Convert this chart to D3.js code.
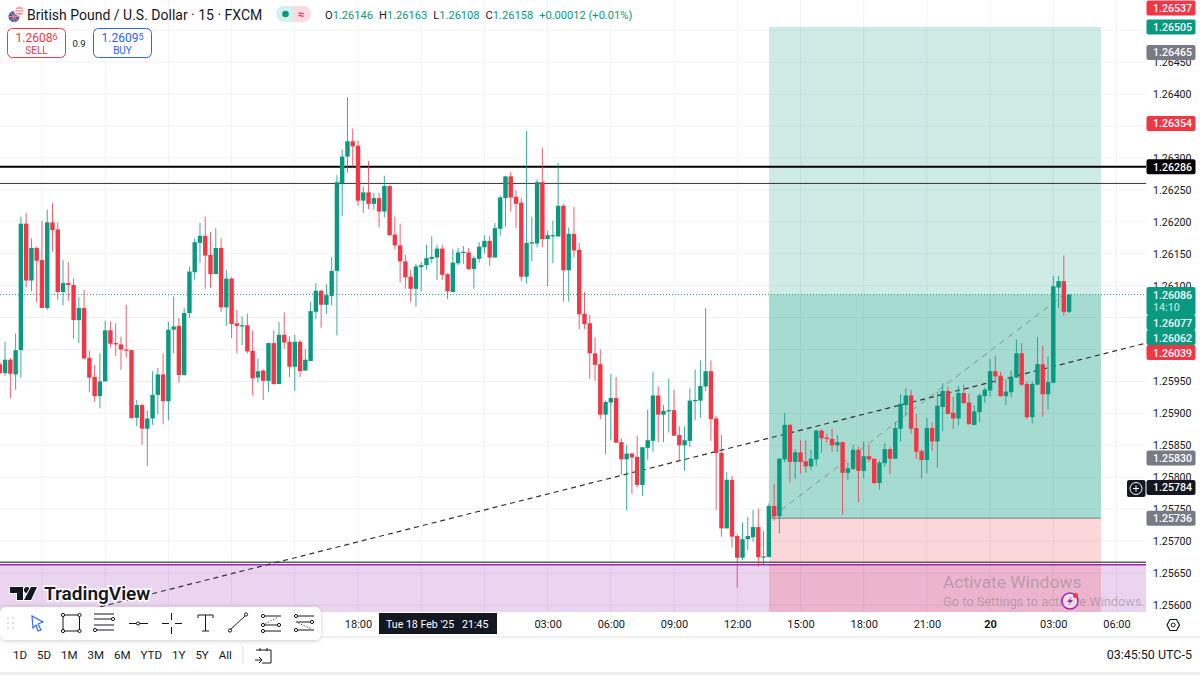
<!DOCTYPE html>
<html>
<head>
<meta charset="utf-8">
<style>
  html, body { margin: 0; padding: 0; background: #fff; overflow: hidden; }
  text { font-family: Roboto, sans-serif; }
</style>
<script src="https://cdn.jsdelivr.net/npm/d3@7"></script>
</head>
<body>
<svg id="chart" width="1200" height="675"></svg>
<script>
// GBP/USD 15m, all series, in points above priceBase
const priceBase = 1.256
const barStart = '2025-02-18T01:00:00Z'
const pointsOpen = [377,363,384,361,399,597,508,559,540,465,599,588,490,504,501,446,465,387,357,327,350,430,410,408,400,399,293,313,276,292,329,361,319,431,437,360,457,521,567,578,548,518,559,466,511,441,437,438,398,356,367,351,410,346,423,412,373,412,367,382,459,492,470,484,523,660,702,726,719,633,646,628,637,616,656,580,563,538,514,495,529,532,542,544,558,518,490,535,552,552,526,542,560,570,544,589,637,671,639,630,514,566,566,662,573,578,577,625,524,581,556,456,441,394,377,298,317,324,255,228,237,232,188,246,257,328,298,303,305,266,250,257,320,320,342,366,292,238,120,196,108,74,103,106,122,75,75,155,139,228,282,224,239,225,217,228,273,262,260,250,255,207,213,243,210,233,229,191,222,244,229,276,313,328,277,241,227,277,256,310,335,301,292,332,317,282,302,327,336,366,359,327,333,356,394,346,294,345,377,330,348,497,507,459]
const pointsHigh = [381,412,387,425,608,614,574,561,601,619,629,599,540,537,511,482,493,398,376,394,445,444,441,420,470,399,321,315,304,366,371,394,443,483,449,465,530,574,598,608,584,590,574,525,513,462,452,456,430,386,369,411,430,443,458,421,423,415,401,475,504,493,502,545,673,713,795,746,727,655,695,645,645,672,657,608,597,548,525,534,537,564,577,564,564,519,557,559,562,559,547,568,579,578,598,641,672,678,649,637,742,608,666,716,586,602,692,628,591,623,567,490,454,419,400,320,361,357,261,251,238,265,247,306,365,342,313,354,337,280,280,339,369,383,465,383,296,266,208,202,111,129,138,149,151,116,159,189,230,301,283,244,258,258,243,274,275,268,276,266,256,223,251,248,256,251,229,226,253,247,286,330,339,337,299,244,293,286,334,347,342,326,343,345,331,313,331,340,385,390,365,353,367,415,410,350,350,420,406,389,515,515,547,486]
const pointsLow = [360,359,324,337,356,497,491,474,465,462,553,478,469,476,417,410,384,333,318,308,350,403,390,368,387,291,280,251,218,282,298,283,289,394,348,359,449,509,536,495,496,518,459,437,418,394,407,394,328,348,321,334,345,346,401,357,335,357,367,382,448,434,456,469,422,609,677,686,625,614,620,619,591,607,578,557,505,495,474,467,491,525,535,509,509,479,490,532,534,524,495,536,550,531,544,578,592,616,590,507,503,538,560,560,499,535,577,475,475,544,432,432,354,351,291,236,258,254,204,148,174,184,171,227,240,255,255,270,265,226,210,247,289,293,335,257,149,107,120,90,27,70,86,99,60,64,75,132,112,223,192,197,206,207,211,218,238,254,240,240,141,196,211,161,198,224,189,181,216,205,229,256,298,268,229,198,206,241,215,272,299,276,281,315,283,282,286,316,326,347,326,313,325,356,343,291,284,345,295,306,347,465,453,457]
const pointsClose = [363,384,362,399,597,508,559,539,465,599,587,490,504,501,446,465,386,356,327,350,430,409,408,400,399,293,313,276,292,329,361,319,431,436,360,457,522,568,578,547,518,559,466,511,440,437,438,397,355,366,351,410,346,423,411,373,412,366,384,460,492,470,485,523,662,702,726,718,633,646,628,637,616,656,579,563,538,513,495,530,532,543,545,558,517,491,536,552,553,526,543,561,570,544,590,638,671,638,628,514,567,568,662,573,579,579,625,524,581,555,455,440,394,376,298,318,324,254,228,237,231,188,247,258,328,298,304,305,265,250,258,320,321,343,366,291,238,120,196,107,74,103,108,122,75,76,155,139,229,282,224,239,224,217,229,273,261,260,250,255,207,214,243,210,233,228,191,223,244,229,277,315,328,276,240,227,277,256,312,335,299,292,332,316,283,303,328,337,366,358,327,334,357,394,345,294,346,377,330,349,499,507,459,486]

const priceTicks = [1.256,1.2565,1.257,1.2575,1.258,1.2585,1.259,1.2595,1.26,1.2605,1.261,1.2615,1.262,1.2625,1.263,1.2635,1.264,1.2645,1.265]
// tick labels fully covered by a price tag in the picture
const priceTicksCovered = [1.26,1.2605,1.2635,1.265]
const timeTicks = ['2025-02-18T03:00Z','2025-02-18T06:00Z','2025-02-18T09:00Z','2025-02-18T12:00Z','2025-02-18T15:00Z','2025-02-18T18:00Z','2025-02-18T21:00Z','2025-02-19T00:00Z','2025-02-19T03:00Z','2025-02-19T06:00Z','2025-02-19T09:00Z','2025-02-19T12:00Z','2025-02-19T15:00Z','2025-02-19T18:00Z','2025-02-19T21:00Z','2025-02-20T00:00Z','2025-02-20T03:00Z','2025-02-20T06:00Z']
// these sit under the drawing toolbar and the crosshair tag
const timeTicksCovered = timeTicks.slice(0,5).concat(timeTicks.slice(6,8))

// price tags on the right axis
const tagPrices = [1.26537,1.26505,1.26465,1.26354,1.26286,1.2583,1.25784,1.25736]
const tagKinds = ['sell','buy','muted','sell','line','muted','cross','muted']
const stackPrices = [1.26086,1.26077,1.26062,1.26039]
const stackKinds = ['buy','buy','buy','sell']

// drawings
const lastPrice = 1.26086
const blackLines = [1.26286,1.2626]
const zoneLines = [1.25667,1.25663]
const purpleZone = [1.25663,1.2555]
const positionBars = [146.03,209.05]
const positionPrices = {target:1.26505,entry:1.25736,stop:1.2555}
const trendBars = [19,217.6]
const trendPrices = [1.25597,1.2601]
const positionPathBars = [146.6,201.6]
const positionPathPrices = [1.25738,1.26083]

const ohlcLetters = ['O','H','L','C']
const ohlcValues = ['1.26146','1.26163','1.26108','1.26158']
const rangeLabels = ['1D','5D','1M','3M','6M','YTD','1Y','5Y','All']

const green = '#089981'
const red = '#f23645'
const tagColor = {sell:red,buy:green,muted:'#787b86',line:'#000',cross:'#131722'}
const plotW = 1146
const plotH = 612

const svg = d3.select('#chart')
const y = d3.scaleLinear().domain([1.256,1.264]).range([605,94])
const x = d3.scaleUtc()
  .domain([new Date('2025-02-18T18:00Z'),new Date('2025-02-20T06:00Z')])
  .range([358,1116.5])
const t0 = +new Date(barStart)
const barX = i => x(new Date(t0 + i*9e5))

const bars = pointsOpen.map((o,i) => ({
  i,
  o:priceBase+o/1e5,
  h:priceBase+pointsHigh[i]/1e5,
  l:priceBase+pointsLow[i]/1e5,
  c:priceBase+pointsClose[i]/1e5
}))

svg.append('clipPath').attr('id','plot').append('rect')
  .attr('width',plotW).attr('height',plotH)
const plot = svg.append('g').attr('clip-path','url(#plot)')

// grid
plot.selectAll('.hgrid').data(priceTicks).enter().append('line')
  .attr('x1',0).attr('x2',plotW)
  .attr('y1',d => y(d)).attr('y2',d => y(d))
  .attr('stroke','#f1f2f5')
plot.selectAll('.vgrid').data(timeTicks).enter().append('line')
  .attr('x1',d => x(new Date(d))).attr('x2',d => x(new Date(d)))
  .attr('y1',0).attr('y2',plotH)
  .attr('stroke','#f1f2f5')

// purple zone + levels
plot.append('rect')
  .attr('x',0).attr('width',plotW)
  .attr('y',y(purpleZone[0])).attr('height',y(purpleZone[1])-y(purpleZone[0]))
  .attr('fill','rgba(156,39,176,0.2)')

// long position tool
const px0 = barX(positionBars[0])
const pw = barX(positionBars[1])-px0
const zone = (top,bottom,fill) => plot.append('rect')
  .attr('x',px0).attr('width',pw)
  .attr('y',y(top)).attr('height',y(bottom)-y(top))
  .attr('fill',fill)
zone(positionPrices.target,positionPrices.entry,'rgba(8,153,129,0.2)')
zone(lastPrice,positionPrices.entry,'rgba(8,153,129,0.2)')
zone(positionPrices.entry,positionPrices.stop,'rgba(242,54,69,0.2)')
plot.append('line')
  .attr('x1',px0).attr('x2',px0+pw)
  .attr('y1',y(positionPrices.entry)).attr('y2',y(positionPrices.entry))
  .attr('stroke','#787b86').attr('stroke-width',1)

plot.selectAll('.black').data(blackLines).enter().append('line')
  .attr('x1',0).attr('x2',plotW)
  .attr('y1',d => y(d)).attr('y2',d => y(d))
  .attr('stroke',(d,i) => i ? '#333' : '#000')
  .attr('stroke-width',(d,i) => i ? 1 : 2)
plot.selectAll('.zoneline').data(zoneLines).enter().append('line')
  .attr('x1',0).attr('x2',plotW)
  .attr('y1',d => y(d)).attr('y2',d => y(d))
  .attr('stroke',(d,i) => i ? '#9c27b0' : '#5d5d5d')
  .attr('stroke-width',1.5)

// trend lines
const trendLine = d3.line().x(d => barX(d[0])).y(d => y(d[1]))
plot.append('path')
  .attr('d',trendLine(d3.zip(trendBars,trendPrices)))
  .attr('fill','none').attr('stroke','#333').attr('stroke-width',1.2).attr('stroke-dasharray','5 4')
plot.append('path')
  .attr('d',trendLine(d3.zip(positionPathBars,positionPathPrices)))
  .attr('fill','none').attr('stroke','#787b86').attr('stroke-opacity',0.75).attr('stroke-width',1).attr('stroke-dasharray','6 5')

// last price line
plot.append('line')
  .attr('x1',0).attr('x2',plotW)
  .attr('y1',y(lastPrice)).attr('y2',y(lastPrice))
  .attr('stroke',green).attr('stroke-opacity',0.9).attr('stroke-dasharray','1 2')

// candles
const candle = plot.selectAll('.candle').data(bars).enter().append('g')
  .attr('fill',d => d.c>=d.o ? green : red)
  .attr('stroke',d => d.c>=d.o ? green : red)
candle.append('line')
  .attr('stroke-opacity',0.8)
  .attr('x1',d => barX(d.i)).attr('x2',d => barX(d.i))
  .attr('y1',d => y(d.h)).attr('y2',d => y(d.l))
candle.append('rect')
  .attr('stroke','none')
  .attr('x',d => barX(d.i)-2.2)
  .attr('width',4.4)
  .attr('y',d => y(Math.max(d.o,d.c)))
  .attr('height',d => Math.max(1.2,Math.abs(y(d.o)-y(d.c))))

// right price axis
const priceAxis = d3.axisRight(y)
  .tickValues(priceTicks.filter(d => !priceTicksCovered.includes(d)))
  .tickFormat(d3.format('.5f')).tickSize(0).tickPadding(0)
const priceG = svg.append('g').attr('transform','translate(1153,0)').call(priceAxis)
priceG.select('.domain').remove()
priceG.selectAll('text').attr('font-size',10.6).attr('fill','#131722').attr('font-family','Roboto')

// time axis
const timeFmt = d => d.getUTCHours()===0 ? d3.utcFormat('%-d')(d) : d3.utcFormat('%H:%M')(d)
const timeAxis = d3.axisBottom(x)
  .tickValues(timeTicks.filter(d => !timeTicksCovered.includes(d)).map(d => new Date(d)))
  .tickFormat(timeFmt).tickSize(0).tickPadding(0)
const timeG = svg.append('g').attr('transform','translate(0,620)').call(timeAxis)
timeG.select('.domain').remove()
timeG.selectAll('text').attr('font-size',11).attr('fill','#131722').attr('font-family','Roboto')
  .attr('font-weight',d => d.getUTCHours()===0 ? 700 : 400)
svg.append('path').attr('d','M0,637H1200').attr('stroke','#e0e3eb')
svg.append('rect').attr('y',672).attr('width',1200).attr('height',3).attr('fill','#eeeeee')

// tags
const tagBox = (y0,h,fill) => svg.append('rect')
  .attr('x',1146.5).attr('y',y0).attr('width',49).attr('height',h).attr('rx',2).attr('fill',fill)
const tagText = (yc,str,opacity) => svg.append('text')
  .attr('x',1153).attr('y',yc+4).attr('font-size',10.6).attr('font-weight',500)
  .attr('fill','#fff').attr('fill-opacity',opacity || 1).text(str)
tagPrices.forEach((p,i) => {
  const yc = Math.max(8,y(p))
  tagBox(yc-7.5,15,tagColor[tagKinds[i]])
  tagText(yc,d3.format('.5f')(p))
})
let stackTop = y(stackPrices[0])-7.5
stackPrices.forEach((p,i) => {
  const h = i ? 15 : 28
  tagBox(stackTop,h,tagColor[stackKinds[i]])
  tagText(stackTop+7.5,d3.format('.5f')(p))
  if (!i) tagText(stackTop+20,'14:10',0.7)
  stackTop += h
})

// crosshair add button
svg.append('rect').attr('x',1127).attr('y',480).attr('width',18.5).attr('height',17).attr('rx',2).attr('fill','#131722')
svg.append('circle').attr('cx',1136).attr('cy',488.5).attr('r',6).attr('fill','none').attr('stroke','#fff')
svg.append('path').attr('d','M1133,488.5h6M1136,485.5v6').attr('stroke','#fff')

// crosshair time tag
svg.append('rect').attr('x',379).attr('y',613).attr('width',118).attr('height',21).attr('fill','#131722')
svg.append('text').attr('x',386).attr('y',628).attr('font-size',10.6).attr('fill','#fff').attr('xml:space','preserve')
  .text("Tue 18 Feb '25   21:45")

// settings hexagon
svg.append('path').attr('d','M1167,625l3,-5.5h6.5l3,5.5l-3,5.5h-6.5z').attr('fill','none').attr('stroke','#131722').attr('stroke-width',1.2)
svg.append('circle').attr('cx',1173.2).attr('cy',625).attr('r',2).attr('fill','none').attr('stroke','#131722')

// header
svg.append('circle').attr('cx',14).attr('cy',16.5).attr('r',5.5).attr('fill','#3f5fa8')
svg.append('path').attr('d','M9,16.5h10M14,11v11M10.5,12.5l7,8M17.5,12.5l-7,8').attr('stroke','#f0808a').attr('stroke-width',1)
svg.append('circle').attr('cx',19.5).attr('cy',11).attr('r',4.8).attr('fill','#f5a3a8').attr('stroke','#fff')
svg.append('path').attr('d','M15,9.5h9M15,12h9').attr('stroke','#fff')
svg.append('text').attr('x',27).attr('y',19.5).attr('font-size',14).attr('fill','#131722')
  .attr('font-family','Noto Sans').text('British Pound / U.S. Dollar · 15 · FXCM')
svg.append('path').attr('d','M284,6h9v16h-9a8,8 0 0 1 0,-16z').attr('fill','#d8f0eb')
svg.append('path').attr('d','M293,6h10a8,8 0 0 1 0,16h-10z').attr('fill','#fbdbe0')
svg.append('circle').attr('cx',285.5).attr('cy',14).attr('r',3.3).attr('fill',green)
svg.append('text').attr('x',301).attr('y',18).attr('font-size',11).attr('font-weight',700).attr('text-anchor','middle').attr('fill','#e91e63').text('≈')

const ohlc = svg.append('text').attr('x',325).attr('y',19).attr('font-size',11.1).attr('xml:space','preserve')
ohlcLetters.forEach((l,i) => {
  ohlc.append('tspan').attr('fill','#131722').attr('dx',i ? 6 : 0).text(l)
  ohlc.append('tspan').attr('fill',green).text(ohlcValues[i])
})
ohlc.append('tspan').attr('fill',green).attr('dx',6).text('+0.00012 (+0.01%)')

// sell / buy
const tradeBox = (bx,col,price,last,label) => {
  svg.append('rect').attr('x',bx).attr('y',28.5).attr('width',58).attr('height',29).attr('rx',5)
    .attr('fill','#fff').attr('stroke',col)
  const t = svg.append('text').attr('x',bx+29).attr('y',42).attr('text-anchor','middle').attr('font-size',12).attr('fill',col)
  t.append('tspan').text(price)
  t.append('tspan').attr('font-size',9).attr('dy',-2).text(last)
  svg.append('text').attr('x',bx+29).attr('y',54).attr('text-anchor','middle').attr('font-size',10).attr('fill',col).text(label)
}
tradeBox(7.5,red,'1.2608','6','SELL')
tradeBox(93.5,'#2962ff','1.2609','5','BUY')
svg.append('text').attr('x',79).attr('y',47).attr('text-anchor','middle').attr('font-size',9.5).attr('fill','#131722').text('0.9')

// watermark
const logo = svg.append('g').attr('fill','#131722').attr('stroke','#fff').attr('stroke-width',2).style('paint-order','stroke')
logo.append('path').attr('d','M10,587H23V600H17V593H10Z')
logo.append('circle').attr('cx',27).attr('cy',590).attr('r',3)
logo.append('path').attr('d','M31,587H37L31,600H24Z')
svg.append('text').attr('x',44).attr('y',600).attr('font-size',19).attr('font-weight',600)
  .attr('fill','#131722').attr('stroke','#fff').attr('stroke-width',3).style('paint-order','stroke').text('TradingView')

// drawing toolbar
const shadow = svg.append('filter').attr('id','sh').attr('x','-5%').attr('y','-20%').attr('width','110%').attr('height','140%')
shadow.append('feDropShadow').attr('dx',0).attr('dy',1).attr('stdDeviation',2).attr('flood-opacity',0.2)
svg.append('rect').attr('x',0).attr('y',607).attr('width',321).attr('height',33).attr('rx',6).attr('fill','#fff').attr('filter','url(#sh)')
const icons = svg.append('g').attr('fill','none').attr('stroke','#131722').attr('stroke-width',1)
const knob = (cx,cy) => icons.append('circle').attr('cx',cx).attr('cy',cy).attr('r',1.6).attr('fill','#fff')
d3.range(3).forEach(r => d3.range(2).forEach(c => {
  svg.append('circle').attr('cx',8+c*5).attr('cy',618+r*5).attr('r',0.8).attr('fill','#b2b5be')
}))
svg.append('path').attr('d','M32,616L43,622L38,624L41,630L38,631L36,625L33,628Z').attr('fill','none').attr('stroke','#2962ff').attr('stroke-width',1.1)
icons.append('rect').attr('x',63).attr('y',615).attr('width',16.5).attr('height',16)
;[[63,615],[79.5,615],[63,631],[79.5,631]].forEach(p => knob(p[0],p[1]))
icons.append('path').attr('d','M94,614H114M94,619H112M94,625H114M97,630H114')
knob(113,619);knob(95,630)
icons.append('path').attr('d','M129,623.5H148');knob(138,623.5)
icons.append('path').attr('d','M162,623.5H169M175,623.5H182M171.5,613V620M171.5,627V634')
icons.append('path').attr('d','M198,618V615H213V618M205.5,615V631M202,631H209')
icons.append('path').attr('d','M230,630L246,615');knob(230,630.5);knob(246,614.5)
icons.append('path').attr('d','M263,616H281M263,625H281M263,631H281')
icons.append('path').attr('d','M265,624L278,617').attr('stroke-dasharray','1.5 1.5').attr('stroke-width',0.7)
knob(263,616);knob(263,625);knob(263,631);knob(279,625)
icons.append('path').attr('d','M296,616H314M296,622H314M296,630H314')
icons.append('path').attr('d','M298,623L312,629').attr('stroke-dasharray','1.5 1.5').attr('stroke-width',0.7)
knob(296,616);knob(312,622);knob(296,630)

// range buttons, laid out by their own text width
let rangeX = 13
rangeLabels.forEach(label => {
  const t = svg.append('text').attr('x',rangeX).attr('y',659).attr('font-size',11.5).attr('fill','#131722').text(label)
  rangeX += t.node().getComputedTextLength()+10
})
svg.append('path').attr('d','M243,645V664').attr('stroke','#e0e3eb')
svg.append('path').attr('d','M256,650H271V663H262M260,648V651M267,648V651M255,660H262M259,657L262,660L259,663').attr('fill','none').attr('stroke','#131722')
svg.append('text').attr('x',1192).attr('y',659).attr('text-anchor','end').attr('font-size',12.5).attr('fill','#131722').text('03:45:50 UTC-5')

// activation notice
svg.append('text').attr('x',943).attr('y',588).attr('font-size',17.4).attr('fill','#787b86').attr('fill-opacity',0.45).attr('font-family','Open Sans').text('Activate Windows')
svg.append('text').attr('x',943).attr('y',606).attr('font-size',12.8).attr('fill','#787b86').attr('fill-opacity',0.45).attr('font-family','Open Sans').text('Go to Settings to activate Windows.')
svg.append('circle').attr('cx',1070).attr('cy',601).attr('r',8).attr('fill','#fff').attr('fill-opacity',0.6).attr('stroke','#9c27b0').attr('stroke-width',1.5)
svg.append('path').attr('d','M1072,596L1067,602H1070L1068,606L1073,600H1070Z').attr('fill','#9c27b0')
svg.append('circle').attr('cx',1075.5).attr('cy',595.5).attr('r',2.5).attr('fill','#f23645')
</script>
</body>
</html>
